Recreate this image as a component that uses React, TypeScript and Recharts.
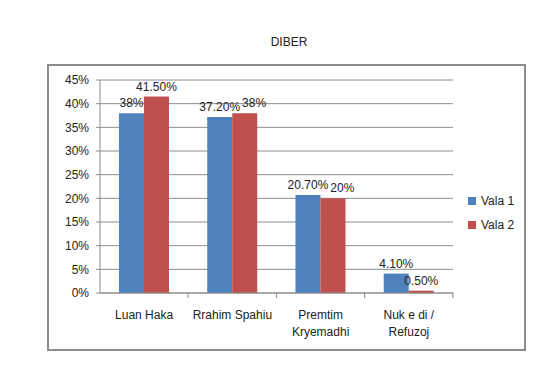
import React from "react";
import { BarChart, Bar, XAxis, YAxis, CartesianGrid, LabelList } from "recharts";

const categories = ["Luan Haka", "Rrahim Spahiu", "Premtim\nKryemadhi", "Nuk e di /\nRefuzoj"];
const vala1 = [38, 37.2, 20.7, 4.1];
const vala2 = [41.5, 38, 20, 0.5];
const seriesNames = ["Vala 1", "Vala 2"];
const yTicks = [0, 5, 10, 15, 20, 25, 30, 35, 40, 45];
const title = "DIBER";

const data = categories.map((c, i) => ({ name: c, v1: vala1[i], v2: vala2[i] }));

const BLUE = "#4F81BD";
const RED = "#C0504D";
const FONT = "'Liberation Sans', Arial, sans-serif";
const LABEL_OFFSET = 6;

const fmt = (v: number) => (Number.isInteger(v) ? `${v}%` : `${v.toFixed(2)}%`);

let ctx: CanvasRenderingContext2D | null = null;
const measure = (s: string) => {
  if (typeof document === "undefined") return s.length * 6.5;
  if (!ctx) {
    ctx = document.createElement("canvas").getContext("2d");
    if (ctx) ctx.font = "12px 'Liberation Sans', Arial, sans-serif";
  }
  return ctx ? ctx.measureText(s).width : s.length * 6.5;
};

const XTick = (props: any) => {
  const { x, y, payload } = props;
  const lines = String(payload.value).split("\n");
  return (
    <g>
      <line x1={x + 44} x2={x + 44} y1={y - 8} y2={y - 3} stroke="#888" strokeWidth={1} />
      {lines.map((l, i) => (
        <text key={i} x={x} y={y} dy={18 + i * 17} textAnchor="middle" fontSize={12} fill="#222" fontFamily={FONT}>
          {l}
        </text>
      ))}
    </g>
  );
};

const V1Label = (props: any) => {
  const { x, y, width, value } = props;
  return (
    <text x={x + width / 2} y={y - LABEL_OFFSET} textAnchor="middle" fontSize={12} fill="#222" fontFamily={FONT}>
      {fmt(value)}
    </text>
  );
};

// Series 2 labels: if they would collide with series 1's label, slide right (as Excel does)
const V2Label = (props: any) => {
  const { x, y, width, height, value, index } = props;
  const text = fmt(value);
  const w2 = measure(text);
  let left = x + width / 2 - w2 / 2;
  const v1 = vala1[index];
  const h1 = value > 0 ? (height * v1) / value : 0;
  const y1 = y + height - h1;
  if (Math.abs(y1 - y) < 14) {
    const w1 = measure(fmt(v1));
    const v1Right = x - width / 2 + w1 / 2;
    left = Math.max(left, v1Right + 2);
  }
  return (
    <text x={left} y={y - LABEL_OFFSET} textAnchor="start" fontSize={12} fill="#222" fontFamily={FONT}>
      {text}
    </text>
  );
};

export default function App() {
  return (
    <div style={{ position: "relative", width: 558, height: 367, margin: -8, fontFamily: FONT }}>
      <div style={{ position: "absolute", left: 0, top: 35, width: 578, textAlign: "center", fontSize: 12, color: "#222" }}>
        {title}
      </div>
      <div
        style={{
          position: "absolute",
          left: 47,
          top: 64,
          width: 479,
          height: 287,
          border: "2px solid #8c8c8c",
          boxSizing: "border-box",
        }}
      />
      <div style={{ position: "absolute", left: 0, top: 0 }}>
        <BarChart
          width={558}
          height={367}
          data={data}
          margin={{ top: 80, right: 105, bottom: 34, left: 0 }}
          barCategoryGap="21.5%"
          barGap={0}
        >
          <CartesianGrid vertical={false} stroke="#8c8c8c" strokeWidth={1} />
          <XAxis
            dataKey="name"
            axisLine={{ stroke: "#8c8c8c" }}
            tickLine={false}
            tick={<XTick />}
            interval={0}
            height={40}
          />
          <YAxis
            width={100}
            domain={[0, 45]}
            ticks={yTicks}
            interval={0}
            tickFormatter={(v: number) => `${v}%`}
            axisLine={{ stroke: "#8c8c8c" }}
            tickLine={{ stroke: "#8c8c8c" }}
            tickSize={4}
            tickMargin={7}
            tick={{ fontSize: 12, fill: "#222", fontFamily: FONT }}
          />
          <Bar dataKey="v1" name={seriesNames[0]} fill={BLUE} isAnimationActive={false}>
            <LabelList dataKey="v1" content={<V1Label />} />
          </Bar>
          <Bar dataKey="v2" name={seriesNames[1]} fill={RED} isAnimationActive={false}>
            <LabelList dataKey="v2" content={<V2Label />} />
          </Bar>
        </BarChart>
      </div>
      <div style={{ position: "absolute", left: 468, top: 189, fontSize: 12, color: "#222" }}>
        {seriesNames.map((n, i) => (
          <div key={n} style={{ display: "flex", alignItems: "center", height: 24 }}>
            <span style={{ display: "inline-block", width: 8, height: 8, background: i === 0 ? BLUE : RED, marginRight: 5 }} />
            <span>{n}</span>
          </div>
        ))}
      </div>
    </div>
  );
}
